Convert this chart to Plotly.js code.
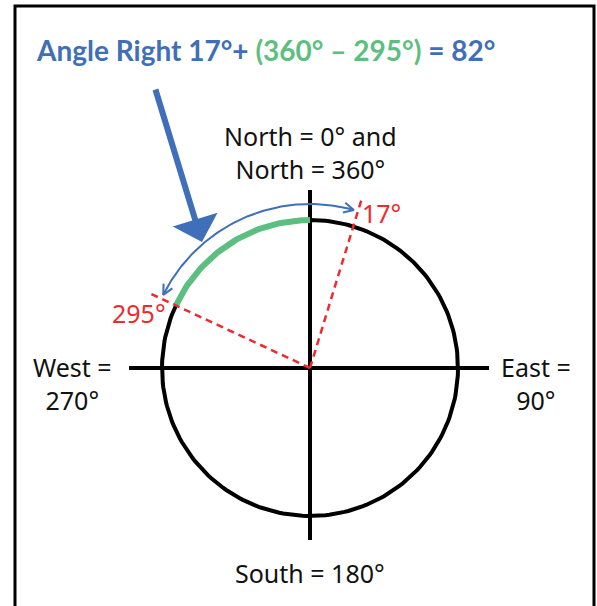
<!DOCTYPE html>
<html>
<head>
<meta charset="utf-8">
<script src="https://cdn.plot.ly/plotly-3.0.1.min.js"></script>
<style>html,body{margin:0;padding:0;background:#fff;}#chart{width:597px;height:606px;}</style>
</head>
<body>
<div id="chart"></div>
<script>
// ---- data ----
const markedAngles = [17, 295];            // compass headings marked on the circle (degrees)
const markedLabels = ['17°', '295°'];
const fullTurn = 360;
const resultAngle = 82;                    // 17 + (360 - 295)
const compassNames = ['North = 0° and<br>North = 360°', 'East =<br>90°', 'South = 180°', 'West =<br>270°'];
const titleParts = ['Angle Right 17°+ ', '(360° – 295°)', ' = 82°'];

// ---- geometry helpers (diagram units = pixels, centre of compass at origin) ----
const R = 148;          // compass circle radius
const Rarc = 164;       // double arrow radius
const Rdash = 180;      // dashed heading rays
function pt(deg, r){ const a = deg*Math.PI/180; return [r*Math.sin(a), r*Math.cos(a)]; }
function arc(d0, d1, r, n){
  const xs=[], ys=[];
  for(let i=0;i<=n;i++){ const d=d0+(d1-d0)*i/n; const p=pt(d,r); xs.push(p[0]); ys.push(p[1]); }
  return {x:xs, y:ys};
}

const BLUE='#3f6fb8', GREEN='#5cbf80', RED='#ee2a2f';
const traces = [];

// circle
const c = arc(0, 360, R, 240);
traces.push({x:c.x, y:c.y, mode:'lines', line:{color:'#000', width:4}, hoverinfo:'skip'});
// cross axes
traces.push({x:[-181,179], y:[0,0], mode:'lines', line:{color:'#000', width:4}, hoverinfo:'skip'});
traces.push({x:[0,0], y:[-172,178], mode:'lines', line:{color:'#000', width:4}, hoverinfo:'skip'});

// green arc from 295 to 360
const g = arc(markedAngles[1], fullTurn, R, 80);
traces.push({x:g.x, y:g.y, mode:'lines', line:{color:GREEN, width:6}, hoverinfo:'skip'});

// red dashed rays
markedAngles.forEach(a=>{
  const p = pt(a, Rdash);
  traces.push({x:[0,p[0]], y:[0,p[1]], mode:'lines', line:{color:RED, width:2.5, dash:'7px,5px'}, hoverinfo:'skip'});
});

// blue double arrow arc
const a0 = markedAngles[1]+1.5, a1 = markedAngles[0]+fullTurn-1.5;
const b = arc(a0, a1, Rarc, 120);
traces.push({x:b.x, y:b.y, mode:'lines', line:{color:BLUE, width:2}, hoverinfo:'skip'});
// chevrons
function chevron(tipDeg, dir){
  const tip = pt(tipDeg, Rarc);
  const back = pt(tipDeg - dir*4, Rarc);
  const tx = tip[0]-back[0], ty = tip[1]-back[1];
  const L = Math.hypot(tx,ty); const ux=tx/L, uy=ty/L;
  const len=10, w=5;
  const bx = tip[0]-ux*len, by = tip[1]-uy*len;
  return {x:[bx - uy*w, tip[0], bx + uy*w], y:[by + ux*w, tip[1], by - ux*w]};
}
[chevron(a1, 1), chevron(a0, -1)].forEach(ch=>{
  traces.push({x:ch.x, y:ch.y, mode:'lines', line:{color:BLUE, width:2}, hoverinfo:'skip'});
});

const txtFont = {family:'Noto Sans, Open Sans, sans-serif', size:25, color:'#111'};
const redFont = {family:'Noto Sans, sans-serif', size:25, color:RED};
const annotations = [
  {x:0, y:215.5, text:compassNames[0], showarrow:false, font:txtFont},
  {x:226, y:-15, text:compassNames[1], showarrow:false, font:txtFont},
  {x:0, y:-205, text:compassNames[2], showarrow:false, font:txtFont},
  {x:-238, y:-15, text:compassNames[3], showarrow:false, font:txtFont},
  {x:71, y:155, text:markedLabels[0], showarrow:false, font:redFont},
  {x:-171, y:55, text:markedLabels[1], showarrow:false, font:redFont},
  {x:-45, y:318, text:'<b>'+titleParts[0]+'<span style="color:'+GREEN+'">'+titleParts[1]+'</span>'+titleParts[2]+'</b>',
   showarrow:false, font:{family:'Lato, sans-serif', size:28, color:BLUE}},
  // big pointer arrow
  {x:-108, y:126, ax:-155, ay:280, axref:'x', ayref:'y', xref:'x', yref:'y', text:'', showarrow:true,
   arrowhead:1, arrowsize:1.3, arrowwidth:6, arrowcolor:BLUE, standoff:0}
];

const layout = {
  width:597, height:606, margin:{l:0,r:0,t:0,b:0},
  paper_bgcolor:'#fff', plot_bgcolor:'#fff', showlegend:false,
  xaxis:{range:[-310,287], visible:false, fixedrange:true},
  yaxis:{range:[-238,368], visible:false, fixedrange:true},
  shapes:[{type:'rect', xref:'paper', yref:'paper', x0:15/597, x1:594/597, y0:-0.05, y1:1-6/606,
           line:{color:'#000', width:3}, fillcolor:'rgba(0,0,0,0)'}],
  annotations:annotations
};
Plotly.newPlot('chart', traces, layout, {staticPlot:true, displayModeBar:false});
</script>
</body>
</html>
